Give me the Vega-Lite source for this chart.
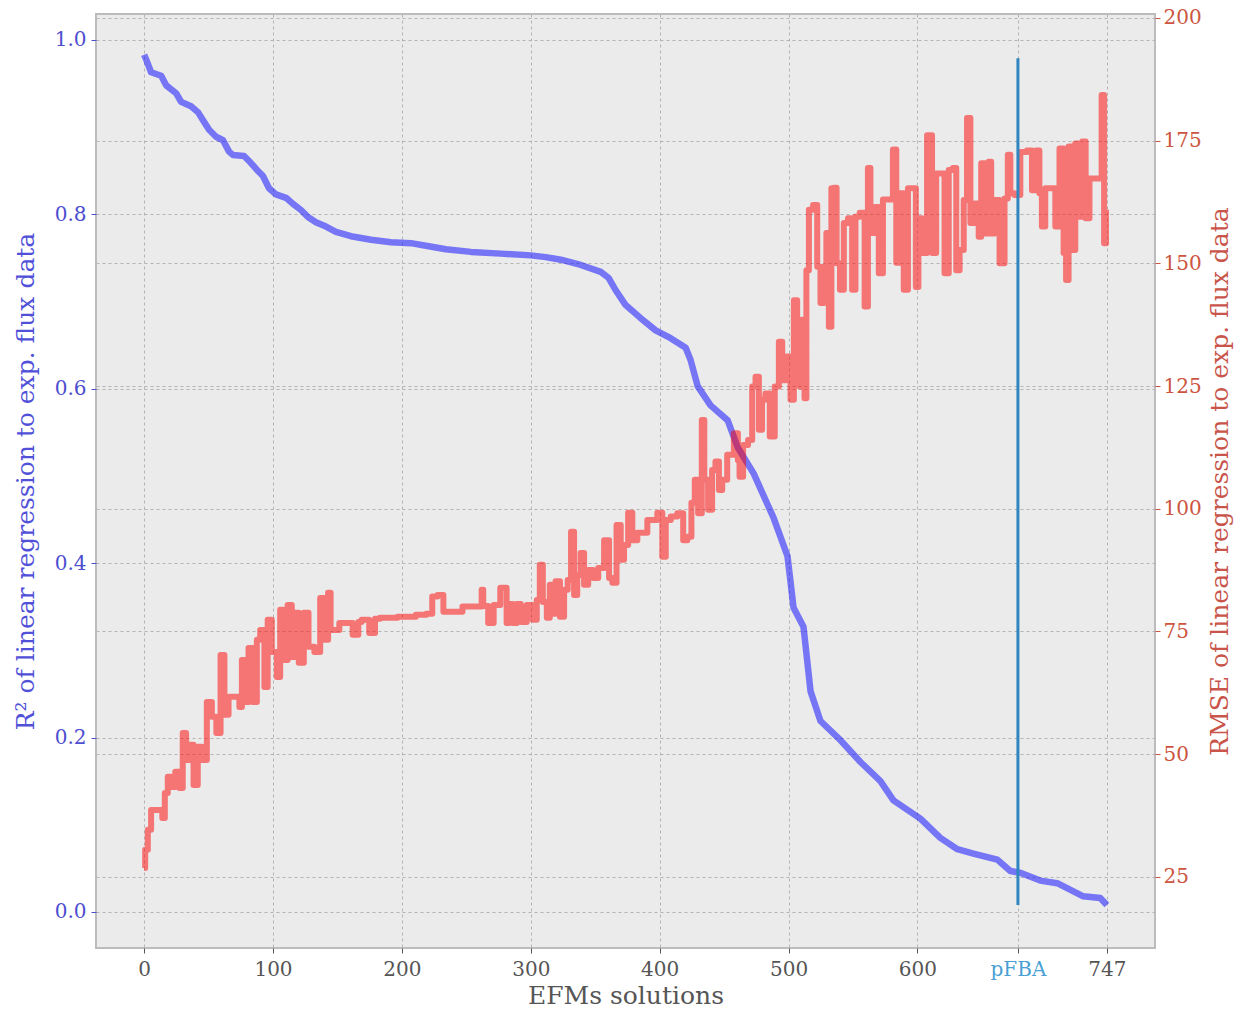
{
  "$schema": "https://vega.github.io/schema/vega-lite/v6.json",
  "autosize": "none",
  "width": 1059,
  "height": 934,
  "padding": {"left": 96, "top": 14, "right": 91, "bottom": 61},
  "background": "white",
  "config": {
    "view": {"fill": "#ebebeb", "stroke": "#bcbcbc", "strokeWidth": 2},
    "font": "DejaVu Serif",
    "axis": {
      "labelFont": "DejaVu Serif",
      "titleFont": "DejaVu Serif",
      "labelFontSize": 20,
      "titleFontSize": 25,
      "titleFontWeight": "normal",
      "gridColor": "#b4b4b4",
      "gridDash": [3, 3],
      "gridWidth": 1,
      "domain": false
    }
  },
  "datasets": {
    "r2": [
      {"efm": 0, "r2": 0.983}, {"efm": 2.3, "r2": 0.975}, {"efm": 5.4, "r2": 0.963}, {"efm": 13.2, "r2": 0.959},
      {"efm": 17.1, "r2": 0.948}, {"efm": 24.8, "r2": 0.939}, {"efm": 28.7, "r2": 0.929}, {"efm": 36.4, "r2": 0.924},
      {"efm": 41.9, "r2": 0.917}, {"efm": 45.7, "r2": 0.908}, {"efm": 50.4, "r2": 0.897}, {"efm": 55.8, "r2": 0.889},
      {"efm": 61.2, "r2": 0.885}, {"efm": 65.9, "r2": 0.872}, {"efm": 69.0, "r2": 0.868}, {"efm": 77.5, "r2": 0.867},
      {"efm": 82.2, "r2": 0.86}, {"efm": 87.6, "r2": 0.851}, {"efm": 92.2, "r2": 0.844}, {"efm": 96.9, "r2": 0.83},
      {"efm": 102.3, "r2": 0.823}, {"efm": 110.1, "r2": 0.819}, {"efm": 115.5, "r2": 0.812}, {"efm": 121.7, "r2": 0.805},
      {"efm": 127.1, "r2": 0.797}, {"efm": 133.3, "r2": 0.791}, {"efm": 141.1, "r2": 0.786}, {"efm": 148.8, "r2": 0.78},
      {"efm": 160.5, "r2": 0.775}, {"efm": 176.0, "r2": 0.771}, {"efm": 191.5, "r2": 0.768}, {"efm": 207.0, "r2": 0.767},
      {"efm": 218.6, "r2": 0.764}, {"efm": 234.1, "r2": 0.76}, {"efm": 253.5, "r2": 0.757}, {"efm": 276.7, "r2": 0.755},
      {"efm": 300.0, "r2": 0.753}, {"efm": 311.6, "r2": 0.751}, {"efm": 323.3, "r2": 0.748}, {"efm": 338.8, "r2": 0.742},
      {"efm": 354.3, "r2": 0.734}, {"efm": 360.5, "r2": 0.727}, {"efm": 365.9, "r2": 0.713}, {"efm": 373.6, "r2": 0.696},
      {"efm": 385.3, "r2": 0.681}, {"efm": 396.9, "r2": 0.667}, {"efm": 408.5, "r2": 0.658}, {"efm": 420.2, "r2": 0.647},
      {"efm": 424.0, "r2": 0.633}, {"efm": 429.5, "r2": 0.603}, {"efm": 439.5, "r2": 0.581}, {"efm": 452.7, "r2": 0.564},
      {"efm": 460.5, "r2": 0.533}, {"efm": 472.9, "r2": 0.503}, {"efm": 488.4, "r2": 0.452}, {"efm": 499.2, "r2": 0.408},
      {"efm": 503.9, "r2": 0.349}, {"efm": 511.6, "r2": 0.327}, {"efm": 517.1, "r2": 0.253}, {"efm": 524.8, "r2": 0.219},
      {"efm": 540.3, "r2": 0.197}, {"efm": 555.8, "r2": 0.172}, {"efm": 571.3, "r2": 0.15}, {"efm": 581.4, "r2": 0.128},
      {"efm": 602.3, "r2": 0.107}, {"efm": 617.8, "r2": 0.085}, {"efm": 631.0, "r2": 0.072}, {"efm": 643.4, "r2": 0.067},
      {"efm": 662.0, "r2": 0.06}, {"efm": 672.1, "r2": 0.047}, {"efm": 679.8, "r2": 0.045}, {"efm": 695.3, "r2": 0.036},
      {"efm": 708.5, "r2": 0.033}, {"efm": 728.7, "r2": 0.018}, {"efm": 741.9, "r2": 0.016}, {"efm": 747, "r2": 0.008}
    ],
    "rmse": [
      {"efm": 0, "rmse": 26.8}, {"efm": 1.6, "rmse": 30.5}, {"efm": 4.1, "rmse": 34.6}, {"efm": 6.7, "rmse": 38.6},
      {"efm": 13.2, "rmse": 38.6}, {"efm": 15.0, "rmse": 37.0}, {"efm": 17.1, "rmse": 42.1}, {"efm": 19.6, "rmse": 45.4},
      {"efm": 22.2, "rmse": 43.3}, {"efm": 26.1, "rmse": 46.4}, {"efm": 28.7, "rmse": 43.1}, {"efm": 31.2, "rmse": 54.3},
      {"efm": 33.9, "rmse": 48.8}, {"efm": 36.4, "rmse": 51.9}, {"efm": 40.3, "rmse": 43.7}, {"efm": 42.9, "rmse": 51.5},
      {"efm": 46.7, "rmse": 48.8}, {"efm": 50.6, "rmse": 60.6}, {"efm": 54.5, "rmse": 57.6}, {"efm": 57.6, "rmse": 54.3},
      {"efm": 61.0, "rmse": 70.2}, {"efm": 63.6, "rmse": 58.0}, {"efm": 67.4, "rmse": 61.7}, {"efm": 72.6, "rmse": 61.7},
      {"efm": 75.2, "rmse": 59.6}, {"efm": 76.5, "rmse": 69.2}, {"efm": 80.4, "rmse": 60.6}, {"efm": 81.6, "rmse": 71.6},
      {"efm": 86.8, "rmse": 60.6}, {"efm": 88.1, "rmse": 73.3}, {"efm": 92.0, "rmse": 75.3}, {"efm": 94.6, "rmse": 63.7},
      {"efm": 97.1, "rmse": 77.4}, {"efm": 101.0, "rmse": 70.8}, {"efm": 104.9, "rmse": 65.7}, {"efm": 106.2, "rmse": 79.4},
      {"efm": 110.1, "rmse": 69.2}, {"efm": 112.6, "rmse": 80.4}, {"efm": 116.5, "rmse": 69.8}, {"efm": 117.8, "rmse": 78.8},
      {"efm": 122.2, "rmse": 68.6}, {"efm": 125.6, "rmse": 78.8}, {"efm": 129.5, "rmse": 71.9}, {"efm": 134.7, "rmse": 70.8},
      {"efm": 138.5, "rmse": 81.8}, {"efm": 141.1, "rmse": 73.3}, {"efm": 144.4, "rmse": 82.9}, {"efm": 145.0, "rmse": 75.3},
      {"efm": 157.9, "rmse": 76.7}, {"efm": 165.7, "rmse": 74.3}, {"efm": 166.7, "rmse": 76.9}, {"efm": 170.8, "rmse": 77.4},
      {"efm": 178.5, "rmse": 74.7}, {"efm": 179.8, "rmse": 77.6}, {"efm": 186.3, "rmse": 77.8}, {"efm": 207.0, "rmse": 78.0},
      {"efm": 214.7, "rmse": 78.4}, {"efm": 223.3, "rmse": 78.6}, {"efm": 223.8, "rmse": 82.1}, {"efm": 231.6, "rmse": 82.4},
      {"efm": 232.8, "rmse": 79.0}, {"efm": 261.2, "rmse": 80.1}, {"efm": 262.6, "rmse": 83.5}, {"efm": 263.6, "rmse": 80.2},
      {"efm": 270.3, "rmse": 76.7}, {"efm": 272.1, "rmse": 80.4}, {"efm": 280.6, "rmse": 83.9}, {"efm": 281.9, "rmse": 76.7},
      {"efm": 284.5, "rmse": 80.6}, {"efm": 287.6, "rmse": 76.7}, {"efm": 290.7, "rmse": 80.6}, {"efm": 293.8, "rmse": 76.9},
      {"efm": 300.0, "rmse": 80.4}, {"efm": 303.1, "rmse": 77.4}, {"efm": 306.2, "rmse": 81.4}, {"efm": 307.8, "rmse": 88.6},
      {"efm": 310.9, "rmse": 81.0}, {"efm": 314.0, "rmse": 77.8}, {"efm": 315.5, "rmse": 84.5}, {"efm": 317.8, "rmse": 78.6},
      {"efm": 320.7, "rmse": 85.2}, {"efm": 324.6, "rmse": 78.0}, {"efm": 327.1, "rmse": 83.5}, {"efm": 330.2, "rmse": 85.5},
      {"efm": 332.3, "rmse": 95.3}, {"efm": 334.9, "rmse": 82.4}, {"efm": 337.2, "rmse": 86.5}, {"efm": 340.1, "rmse": 91.0},
      {"efm": 342.6, "rmse": 84.5}, {"efm": 346.5, "rmse": 87.5}, {"efm": 350.4, "rmse": 85.9}, {"efm": 354.3, "rmse": 87.9},
      {"efm": 359.5, "rmse": 93.6}, {"efm": 362.0, "rmse": 85.9}, {"efm": 364.6, "rmse": 84.9}, {"efm": 368.5, "rmse": 96.7},
      {"efm": 371.1, "rmse": 89.6}, {"efm": 373.6, "rmse": 92.6}, {"efm": 377.5, "rmse": 99.2}, {"efm": 380.1, "rmse": 93.6},
      {"efm": 385.3, "rmse": 95.1}, {"efm": 395.6, "rmse": 97.7}, {"efm": 400.8, "rmse": 99.2}, {"efm": 403.3, "rmse": 90.2},
      {"efm": 406.2, "rmse": 97.7}, {"efm": 411.1, "rmse": 98.4}, {"efm": 416.3, "rmse": 99.1}, {"efm": 420.2, "rmse": 93.6},
      {"efm": 422.7, "rmse": 94.3}, {"efm": 426.6, "rmse": 101.2}, {"efm": 427.9, "rmse": 105.9}, {"efm": 431.8, "rmse": 99.1},
      {"efm": 433.6, "rmse": 118.1}, {"efm": 435.7, "rmse": 105.9}, {"efm": 439.5, "rmse": 99.8}, {"efm": 441.9, "rmse": 107.9},
      {"efm": 444.7, "rmse": 109.6}, {"efm": 447.3, "rmse": 103.8}, {"efm": 449.8, "rmse": 105.9}, {"efm": 455.0, "rmse": 111.0},
      {"efm": 460.2, "rmse": 115.4}, {"efm": 461.2, "rmse": 109.9}, {"efm": 462.8, "rmse": 106.5}, {"efm": 466.7, "rmse": 113.0},
      {"efm": 470.5, "rmse": 114.0}, {"efm": 473.1, "rmse": 124.9}, {"efm": 475.7, "rmse": 126.9}, {"efm": 478.3, "rmse": 116.1},
      {"efm": 480.6, "rmse": 122.2}, {"efm": 483.5, "rmse": 123.5}, {"efm": 487.4, "rmse": 114.7}, {"efm": 491.2, "rmse": 124.9},
      {"efm": 493.8, "rmse": 134.0}, {"efm": 496.4, "rmse": 126.2}, {"efm": 500.2, "rmse": 131.0}, {"efm": 502.9, "rmse": 122.2},
      {"efm": 505.4, "rmse": 142.5}, {"efm": 508.0, "rmse": 135.8}, {"efm": 509.3, "rmse": 124.9}, {"efm": 511.6, "rmse": 138.5},
      {"efm": 513.2, "rmse": 122.5}, {"efm": 514.5, "rmse": 148.6}, {"efm": 517.1, "rmse": 160.9}, {"efm": 521.0, "rmse": 161.9},
      {"efm": 523.5, "rmse": 149.3}, {"efm": 526.1, "rmse": 141.9}, {"efm": 528.7, "rmse": 149.3}, {"efm": 530.0, "rmse": 156.2},
      {"efm": 532.6, "rmse": 137.1}, {"efm": 533.9, "rmse": 165.3}, {"efm": 536.4, "rmse": 165.4}, {"efm": 538.2, "rmse": 150.0},
      {"efm": 541.6, "rmse": 144.6}, {"efm": 544.2, "rmse": 158.2}, {"efm": 548.1, "rmse": 159.2}, {"efm": 550.6, "rmse": 144.6},
      {"efm": 553.3, "rmse": 159.5}, {"efm": 557.1, "rmse": 160.3}, {"efm": 561.0, "rmse": 141.2}, {"efm": 562.2, "rmse": 169.4},
      {"efm": 564.9, "rmse": 156.2}, {"efm": 568.8, "rmse": 161.5}, {"efm": 571.3, "rmse": 148.0}, {"efm": 575.2, "rmse": 163.0},
      {"efm": 579.1, "rmse": 163.0}, {"efm": 582.9, "rmse": 173.2}, {"efm": 584.3, "rmse": 150.1}, {"efm": 588.1, "rmse": 164.3},
      {"efm": 590.7, "rmse": 144.6}, {"efm": 594.6, "rmse": 165.3}, {"efm": 598.4, "rmse": 165.3}, {"efm": 599.2, "rmse": 145.2},
      {"efm": 602.3, "rmse": 159.2}, {"efm": 604.9, "rmse": 152.1}, {"efm": 610.1, "rmse": 176.1}, {"efm": 612.6, "rmse": 152.1},
      {"efm": 616.5, "rmse": 168.3}, {"efm": 619.1, "rmse": 168.3}, {"efm": 623.0, "rmse": 148.0}, {"efm": 625.6, "rmse": 169.0},
      {"efm": 629.5, "rmse": 169.4}, {"efm": 630.8, "rmse": 148.6}, {"efm": 634.7, "rmse": 152.7}, {"efm": 637.2, "rmse": 162.9},
      {"efm": 639.8, "rmse": 179.6}, {"efm": 642.4, "rmse": 158.2}, {"efm": 646.3, "rmse": 162.2}, {"efm": 648.8, "rmse": 155.4},
      {"efm": 650.2, "rmse": 170.4}, {"efm": 654.0, "rmse": 156.1}, {"efm": 656.6, "rmse": 170.7}, {"efm": 657.9, "rmse": 156.1},
      {"efm": 661.8, "rmse": 162.9}, {"efm": 665.7, "rmse": 150.0}, {"efm": 669.5, "rmse": 163.2}, {"efm": 670.8, "rmse": 172.1},
      {"efm": 673.4, "rmse": 164.3}, {"efm": 677.3, "rmse": 163.9}, {"efm": 682.4, "rmse": 172.7}, {"efm": 687.6, "rmse": 173.0},
      {"efm": 690.2, "rmse": 164.9}, {"efm": 694.0, "rmse": 173.0}, {"efm": 695.3, "rmse": 164.3}, {"efm": 697.9, "rmse": 157.5},
      {"efm": 700.5, "rmse": 165.3}, {"efm": 705.7, "rmse": 165.3}, {"efm": 708.3, "rmse": 157.5}, {"efm": 712.2, "rmse": 173.4},
      {"efm": 714.7, "rmse": 152.1}, {"efm": 716.0, "rmse": 146.6}, {"efm": 718.6, "rmse": 173.8}, {"efm": 721.2, "rmse": 152.7},
      {"efm": 723.8, "rmse": 174.4}, {"efm": 726.4, "rmse": 159.5}, {"efm": 729.5, "rmse": 174.8}, {"efm": 731.6, "rmse": 159.2},
      {"efm": 735.4, "rmse": 167.3}, {"efm": 741.9, "rmse": 167.3}, {"efm": 744.0, "rmse": 184.3}, {"efm": 745.7, "rmse": 154.1},
      {"efm": 747, "rmse": 160.9}
    ],
    "pfba": [{"efm": 678, "lo": 0.008, "hi": 0.979}]
  },
  "layer": [
    {
      "data": {"name": "r2"},
      "mark": {"type": "line", "stroke": "#0000ff", "opacity": 0.5, "strokeWidth": 6.5, "strokeJoin": "round", "clip": true},
      "encoding": {
        "x": {
          "field": "efm", "type": "quantitative",
          "scale": {"domain": [-37.35, 784.35], "nice": false, "zero": false},
          "axis": {
            "title": "EFMs solutions",
            "titleColor": "#555555",
            "titlePadding": 4,
            "values": [0, 100, 200, 300, 400, 500, 600, 678, 747],
            "labelExpr": "datum.value == 678 ? 'pFBA' : datum.label",
            "labelColor": {"condition": {"test": "datum.value == 678", "value": "#4a9fd4"}, "value": "#555555"},
            "labelPadding": 6,
            "tickColor": "#555555",
            "tickSize": 5,
            "grid": true
          }
        },
        "y": {
          "field": "r2", "type": "quantitative",
          "scale": {"domain": [-0.0413, 1.0298], "nice": false, "zero": false},
          "axis": {
            "title": "R² of linear regression to exp. flux data",
            "titleColor": "#5050d8",
            "titlePadding": 16,
            "values": [0, 0.2, 0.4, 0.6, 0.8, 1.0],
            "format": ".1f",
            "labelColor": "#4d4dd0",
            "tickColor": "#4d4dd0",
            "tickSize": 5,
            "labelPadding": 5,
            "grid": true
          }
        }
      }
    },
    {
      "data": {"name": "rmse"},
      "mark": {"type": "line", "interpolate": "step", "stroke": "#ff0000", "opacity": 0.5, "strokeWidth": 6, "strokeJoin": "round", "clip": true},
      "encoding": {
        "x": {"field": "efm", "type": "quantitative", "scale": {"domain": [-37.35, 784.35], "nice": false, "zero": false}},
        "y": {
          "field": "rmse", "type": "quantitative",
          "scale": {"domain": [10.5, 200.8], "nice": false, "zero": false},
          "axis": {
            "orient": "right",
            "title": "RMSE of linear regression to exp. flux data",
            "titleAngle": 270,
            "titleBaseline": "top",
            "titleColor": "#c8544a",
            "titlePadding": 6,
            "values": [25, 50, 75, 100, 125, 150, 175, 200],
            "labelColor": "#cc5540",
            "tickColor": "#cc5540",
            "tickSize": 5,
            "labelPadding": 3,
            "grid": true
          }
        }
      }
    },
    {
      "data": {"name": "pfba"},
      "mark": {"type": "rule", "stroke": "#2f86c0", "strokeWidth": 3},
      "encoding": {
        "x": {"field": "efm", "type": "quantitative", "scale": {"domain": [-37.35, 784.35], "nice": false, "zero": false}},
        "y": {"field": "lo", "type": "quantitative", "scale": {"domain": [-0.0413, 1.0298], "nice": false, "zero": false}, "axis": null},
        "y2": {"field": "hi"}
      }
    }
  ],
  "resolve": {"scale": {"y": "independent"}, "axis": {"y": "independent"}}
}
